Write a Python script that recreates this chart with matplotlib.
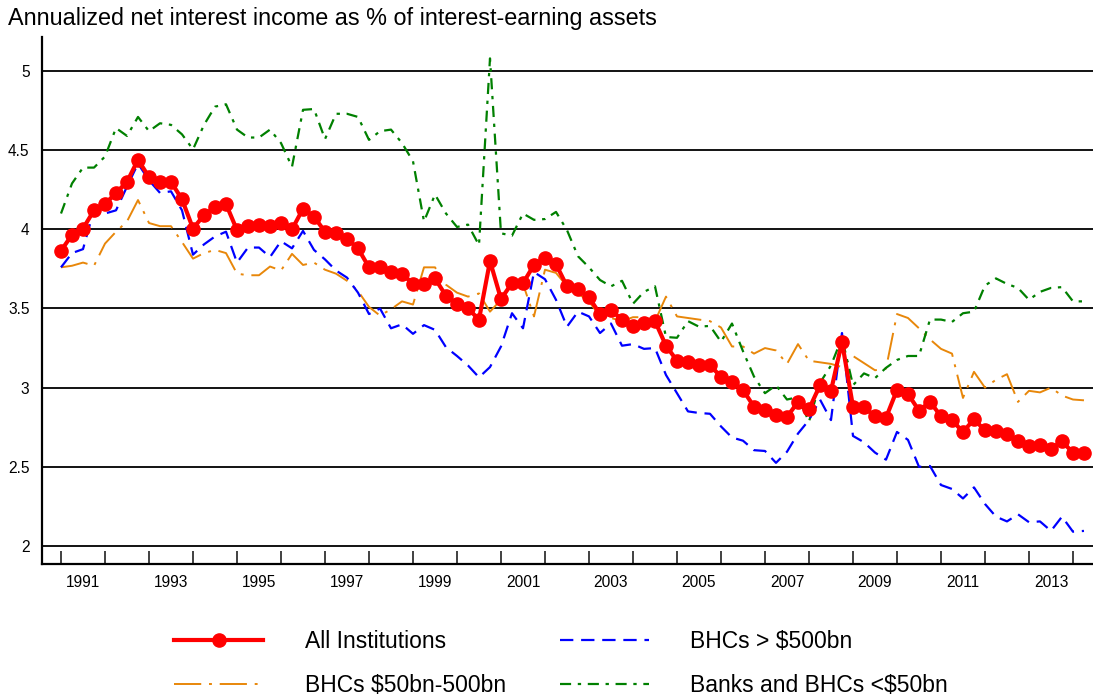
import numpy as np
import matplotlib
matplotlib.use("Agg")
from matplotlib import pyplot as plt
from matplotlib.ticker import FixedLocator, NullFormatter, FixedFormatter

plt.rcParams['font.family'] = ['Liberation Sans', 'DejaVu Sans']

# quarterly, first observation 1991Q1
all_inst = [
    3.865, 3.965, 4.005, 4.12, 4.16, 4.23, 4.30, 4.44, 4.33, 4.30,
    4.30, 4.19, 4.005, 4.09, 4.14, 4.16, 3.995, 4.02, 4.03, 4.02,
    4.04, 4.00, 4.13, 4.08, 3.985, 3.98, 3.94, 3.88, 3.76, 3.76,
    3.73, 3.72, 3.655, 3.655, 3.69, 3.58, 3.53, 3.50, 3.43, 3.80,
    3.56, 3.66, 3.66, 3.775, 3.82, 3.78, 3.64, 3.62, 3.57, 3.465,
    3.49, 3.43, 3.39, 3.41, 3.42, 3.265, 3.17, 3.16, 3.145, 3.14,
    3.07, 3.035, 2.985, 2.88, 2.86, 2.83, 2.815, 2.91, 2.865, 3.015,
    2.98, 3.29, 2.88, 2.875, 2.82, 2.81, 2.985, 2.96, 2.855, 2.91,
    2.82, 2.795, 2.72, 2.80, 2.73, 2.725, 2.71, 2.66, 2.63, 2.635,
    2.615, 2.66, 2.59, 2.59,
]
bhc_large = [
    3.76, 3.85, 3.875, 4.125, 4.10, 4.12, 4.27, 4.415, 4.31, 4.23,
    4.24, 4.12, 3.84, 3.905, 3.955, 3.985, 3.79, 3.885, 3.885, 3.825,
    3.925, 3.88, 3.99, 3.87, 3.81, 3.74, 3.695, 3.60, 3.465, 3.50,
    3.375, 3.40, 3.34, 3.395, 3.365, 3.255, 3.20, 3.14, 3.065, 3.13,
    3.26, 3.47, 3.375, 3.73, 3.685, 3.555, 3.385, 3.48, 3.45, 3.345,
    3.405, 3.265, 3.275, 3.245, 3.25, 3.08, 2.965, 2.85, 2.84, 2.835,
    2.755, 2.685, 2.665, 2.605, 2.60, 2.525, 2.595, 2.71, 2.795, 2.925,
    2.795, 3.345, 2.695, 2.655, 2.59, 2.545, 2.72, 2.67, 2.50, 2.505,
    2.385, 2.36, 2.30, 2.37, 2.265, 2.185, 2.155, 2.20, 2.15, 2.155,
    2.095, 2.185, 2.09, 2.095,
]
bhc_mid = [
    3.76, 3.77, 3.79, 3.77, 3.91, 3.985, 4.05, 4.185, 4.04, 4.02,
    4.02, 3.92, 3.815, 3.85, 3.87, 3.85, 3.72, 3.71, 3.71, 3.765,
    3.74, 3.845, 3.775, 3.79, 3.745, 3.72, 3.675, 3.61, 3.51, 3.455,
    3.495, 3.545, 3.525, 3.76, 3.76, 3.65, 3.60, 3.575, 3.595, 3.48,
    3.555, 3.66, 3.655, 3.45, 3.745, 3.725, 3.64, 3.595, 3.545, 3.45,
    3.44, 3.42, 3.445, 3.445, 3.42, 3.575, 3.45, 3.44, 3.43, 3.42,
    3.38, 3.26, 3.26, 3.215, 3.25, 3.235, 3.15, 3.275, 3.17, 3.16,
    3.15, 3.13, 3.20, 3.155, 3.11, 3.12, 3.465, 3.44, 3.375, 3.305,
    3.245, 3.215, 2.935, 3.10, 3.00, 3.05, 3.085, 2.91, 2.98, 2.97,
    3.00, 2.95, 2.925, 2.92,
]
banks_small = [
    4.10, 4.29, 4.39, 4.39, 4.46, 4.64, 4.59, 4.71, 4.62, 4.67,
    4.66, 4.60, 4.505, 4.66, 4.775, 4.79, 4.63, 4.58, 4.58, 4.63,
    4.545, 4.395, 4.755, 4.76, 4.57, 4.73, 4.73, 4.71, 4.565, 4.62,
    4.63, 4.545, 4.43, 4.05, 4.22, 4.10, 4.015, 4.03, 3.90, 5.08,
    3.975, 3.96, 4.10, 4.06, 4.065, 4.11, 3.995, 3.83, 3.76, 3.68,
    3.64, 3.675, 3.53, 3.605, 3.64, 3.32, 3.315, 3.42, 3.385, 3.39,
    3.29, 3.405, 3.23, 3.07, 2.965, 3.015, 2.925, 2.94, 2.785, 3.03,
    3.14, 3.315, 3.015, 3.09, 3.06, 3.125, 3.175, 3.20, 3.20, 3.43,
    3.43, 3.415, 3.47, 3.48, 3.645, 3.69, 3.655, 3.63, 3.555, 3.605,
    3.63, 3.635, 3.545, 3.545,
]
label_years = list(range(1991, 2014, 2))
y_ticks = [2, 2.5, 3, 3.5, 4, 4.5, 5]
y_labels = ['2', '2.5', '3', '3.5', '4', '4.5', '5']

t = 1991 + np.arange(len(all_inst)) / 4

fig = plt.figure(figsize=(10.93, 7.0), dpi=100)
ax = fig.add_axes([42 / 1093, 1 - 564 / 700, 1 - 42 / 1093, (564 - 37) / 700])

ax.plot(t, bhc_large, color='#0000FF', lw=1.6, dashes=(6, 3.5),
        label='BHCs > $500bn', zorder=3)
ax.plot(t, bhc_mid, color='#E8870A', lw=1.4, dashes=(14, 4, 1.5, 4),
        label='BHCs $50bn-500bn', zorder=2)
ax.plot(t, banks_small, color='#008000', lw=1.6, dashes=(5, 3, 1.5, 3),
        label='Banks and BHCs <$50bn', zorder=2)
ax.plot(t, all_inst, color='#FF0000', lw=3, marker='o', ms=9.5,
        label='All Institutions', zorder=4)

ax.set_xlim(1990.568, 2014.455)
ax.set_ylim(1.886, 5.215)

ax.set_yticks(y_ticks)
ax.set_yticklabels(y_labels, fontsize=11.2)
ax.tick_params(axis='y', length=0, pad=9)
ax.yaxis.grid(True, color='black', lw=1.3)
ax.set_axisbelow(True)

ax.xaxis.set_major_locator(FixedLocator(range(1991, 2015)))
ax.xaxis.set_major_formatter(NullFormatter())
ax.xaxis.set_minor_locator(FixedLocator([y + 0.5 for y in label_years]))
ax.xaxis.set_minor_formatter(FixedFormatter([str(y) for y in label_years]))
ax.tick_params(axis='x', which='major', direction='in', length=9.5,
               width=1.3, color='#333333')
ax.tick_params(axis='x', which='minor', length=0, pad=8, labelsize=11.2)

for s in ['top', 'right']:
    ax.spines[s].set_visible(False)
for s in ['left', 'bottom']:
    ax.spines[s].set_linewidth(1.6)

fig.text(8 / 1093, 1 - 19 / 700,
         'Annualized net interest income as % of interest-earning assets',
         fontsize=16.8, va='center', ha='left')

# legend fills column-wise: All, BHCs 50-500 | BHCs >500, Banks <50
h, l = ax.get_legend_handles_labels()
order = [3, 1, 0, 2]
fig.legend([h[i] for i in order], [l[i] for i in order],
           loc='center', bbox_to_anchor=(561 / 1093, 1 - 663.5 / 700), ncol=2,
           frameon=False, fontsize=16.5, handlelength=3.9, handletextpad=1.8,
           columnspacing=2.35, labelspacing=0.9, numpoints=1)

fig.savefig('out.png', dpi=100)
